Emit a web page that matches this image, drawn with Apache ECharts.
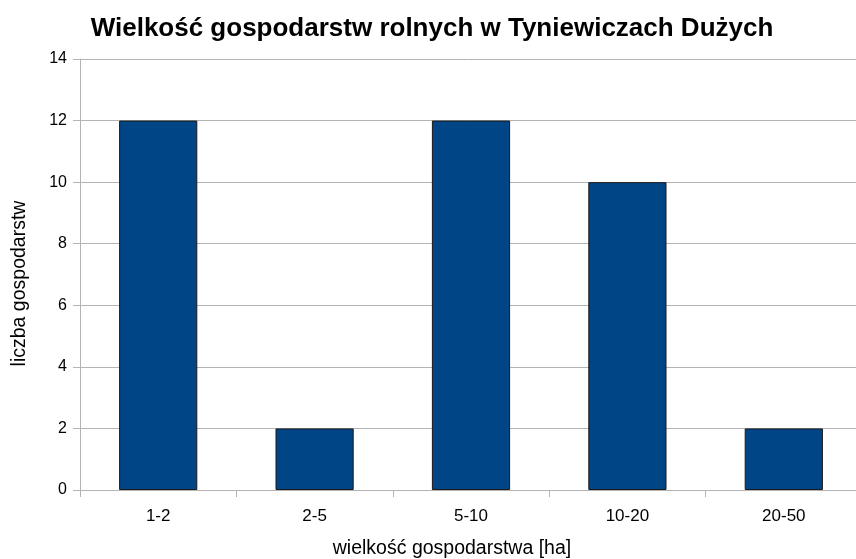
<!DOCTYPE html>
<html>
<head>
<meta charset="utf-8">
<script src="https://cdn.jsdelivr.net/npm/echarts@6/dist/echarts.min.js"></script>
<style>
  html, body { margin: 0; padding: 0; background: #fff; }
  #chart { width: 856px; height: 559px; }
</style>
</head>
<body>
<div id="chart"></div>
<script>
// wielkość gospodarstw [ha]
const categories = ['1-2', '2-5', '5-10', '10-20', '20-50']
// liczba gospodarstw
const counts = [12, 2, 12, 10, 2]

const gridColor = '#b3b3b3'
const font = '"Liberation Sans", Arial, sans-serif'

const chart = echarts.init(document.getElementById('chart'))

chart.setOption({
  animation: false,
  textStyle: { fontFamily: font },
  title: {
    text: 'Wielkość gospodarstw rolnych w Tyniewiczach Dużych',
    left: 427,
    textAlign: 'center',
    top: 11,
    textStyle: { fontSize: 26, fontWeight: 'bold', color: '#000', fontFamily: font },
  },
  grid: {
    left: 80,
    width: 782,
    top: 59,
    bottom: 69,
    outerBoundsMode: 'none',
  },
  xAxis: {
    type: 'category',
    data: categories,
    name: 'wielkość gospodarstwa [ha]',
    nameLocation: 'middle',
    nameGap: 49,
    nameTextStyle: { fontSize: 19.5, color: '#000', fontFamily: font, padding: [0, 38, 0, 0] },
    axisLine: { lineStyle: { color: gridColor } },
    axisTick: { show: true, length: 7, lineStyle: { color: gridColor } },
    axisLabel: { fontSize: 17, color: '#000', margin: 18, fontFamily: font },
  },
  yAxis: {
    type: 'value',
    min: 0,
    max: 14,
    interval: 2,
    name: 'liczba gospodarstw',
    nameLocation: 'middle',
    nameGap: 50,
    nameTextStyle: { fontSize: 19.5, color: '#000', fontFamily: font, padding: [0, 18, 0, 0] },
    axisLine: { show: true, lineStyle: { color: gridColor } },
    axisTick: { show: true, length: 7, lineStyle: { color: gridColor } },
    axisLabel: { fontSize: 16, color: '#000', margin: 13, fontFamily: font },
    splitLine: { lineStyle: { color: gridColor } },
  },
  series: [
    {
      type: 'bar',
      data: counts,
      barWidth: '50%',
      itemStyle: {
        color: '#004586',
        borderColor: '#1a1a1a',
        borderWidth: 1,
      },
    },
  ],
})
</script>
</body>
</html>
